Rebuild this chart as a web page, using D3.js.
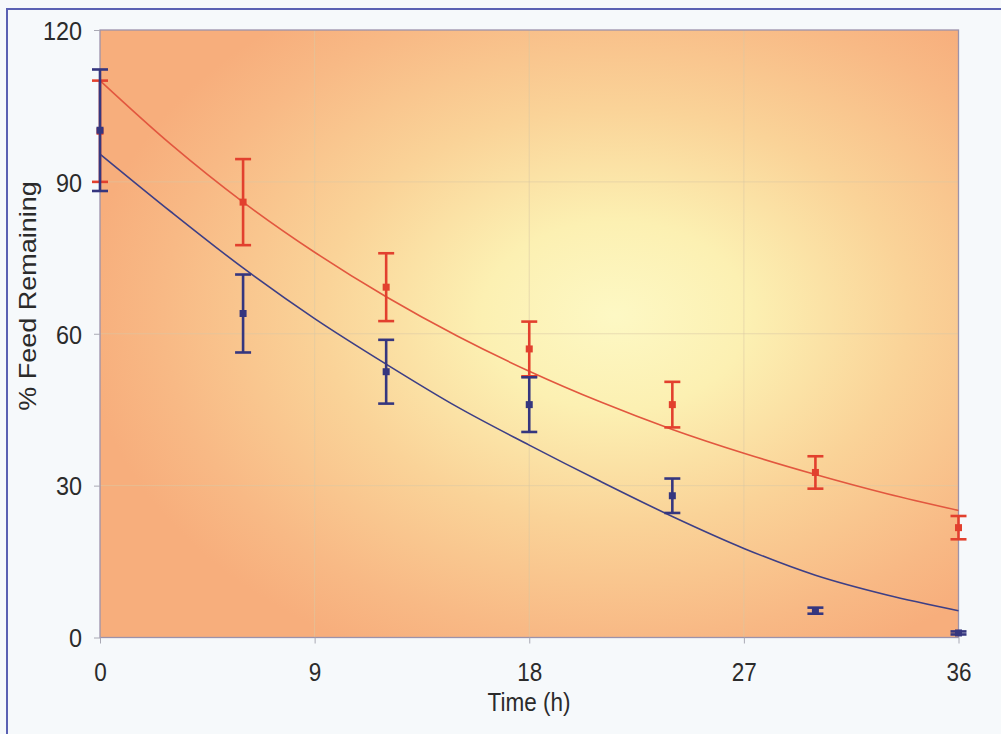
<!DOCTYPE html>
<html>
<head>
<meta charset="utf-8">
<script src="https://cdn.jsdelivr.net/npm/d3@7"></script>
<style>
  html, body { margin: 0; padding: 0; background: #f6f9fb; }
  svg { display: block; }
  text { font-family: "Liberation Sans", Arial, sans-serif; fill: #2b2b2b; }
</style>
</head>
<body>
<svg id="chart" width="1001" height="734"></svg>
<script>
// Sampling times (h)
const times = [0, 6, 12, 18, 24, 30, 36];

// Treatment A (red): mean % feed remaining and error (±)
const redMean = [100, 86, 69.2, 57, 46, 32.6, 21.7];
const redErr  = [10, 8.5, 6.7, 5.4, 4.5, 3.2, 2.3];

// Treatment B (blue): mean % feed remaining and error (±)
const blueMean = [100.2, 64, 52.5, 46, 28, 5.3, 0.9];
const blueErr  = [12, 7.7, 6.3, 5.4, 3.4, 0.6, 0.3];

// Fitted trend curves, sampled every 3 h
const fitTimes = [0, 3, 6, 9, 12, 15, 18, 21, 24, 27, 30, 33, 36];
const redFit   = [110, 97.3, 86, 76.1, 67.3, 59.5, 52.6, 46.5, 41.1, 36.4, 32.2, 28.4, 25.1];
const blueFit  = [95.5, 84, 73, 63, 54, 45.5, 38, 30.8, 23.9, 17.6, 12.3, 8.4, 5.3];

// Axis ticks
const xTicks = [0, 9, 18, 27, 36];
const yTicks = [0, 30, 60, 90, 120];

const svg = d3.select("#chart");
const plotL = 100, plotT = 30, plotR = 958.5, plotB = 637.5;
const W = plotR - plotL, H = plotB - plotT;

const x = d3.scaleLinear().domain([0, 36]).range([plotL, plotR]);
const y = d3.scaleLinear().domain([0, 120]).range([plotB, plotT]);

// Page frame
svg.append("line").attr("x1", 7).attr("x2", 7).attr("y1", 8).attr("y2", 734)
  .attr("stroke", "#5a61b3").attr("stroke-width", 2);
svg.append("line").attr("x1", 6).attr("x2", 1001).attr("y1", 9).attr("y2", 9)
  .attr("stroke", "#5a61b3").attr("stroke-width", 2);

// Plot area background: warm gradient, bright in the middle
const defs = svg.append("defs");
const grad = defs.append("radialGradient").attr("id", "plotBg")
  .attr("cx", 0.6).attr("cy", 0.47).attr("r", 0.62)
  .attr("fx", 0.6).attr("fy", 0.47);
[[0, "#fdf8c4"], [0.25, "#fcf0b2"], [0.55, "#fad398"], [0.85, "#f8b985"], [1, "#f7ae7c"]]
  .forEach(([o, c]) => grad.append("stop").attr("offset", o).attr("stop-color", c));

svg.append("rect").attr("x", plotL).attr("y", plotT).attr("width", W).attr("height", H)
  .attr("fill", "url(#plotBg)");

// Gridlines
const grid = svg.append("g").attr("stroke", "#d9c8a6").attr("stroke-opacity", 0.55).attr("stroke-width", 1);
grid.selectAll("line.h").data(yTicks.filter(v => v > 0 && v < 120)).join("line")
  .attr("x1", plotL).attr("x2", plotR).attr("y1", d => y(d)).attr("y2", d => y(d));
grid.selectAll("line.v").data(xTicks.filter(v => v > 0 && v < 36)).join("line")
  .attr("y1", plotT).attr("y2", plotB).attr("x1", d => x(d)).attr("x2", d => x(d));

// Plot border
svg.append("rect").attr("x", plotL).attr("y", plotT).attr("width", W).attr("height", H)
  .attr("fill", "none").attr("stroke", "#9c92ab").attr("stroke-width", 1.3);

// Axes
const sx = 0.9; // narrow type
const yAxis = svg.append("g").attr("transform", `translate(${plotL},0)`)
  .call(d3.axisLeft(y).tickValues(yTicks).tickSize(6).tickSizeOuter(0).tickFormat(d3.format("d")));
yAxis.select(".domain").remove();
yAxis.selectAll(".tick line").attr("stroke", "#a9a9b4");
yAxis.selectAll(".tick text")
  .attr("x", -18 / sx).attr("dy", "0.36em")
  .attr("transform", `scale(${sx},1)`)
  .style("font-size", "26px").attr("fill", "#2b2b2b");

const xAxis = svg.append("g").attr("transform", `translate(0,${plotB})`)
  .call(d3.axisBottom(x).tickValues(xTicks).tickSize(6).tickSizeOuter(0).tickFormat(d3.format("d")));
xAxis.select(".domain").remove();
xAxis.selectAll(".tick line").attr("stroke", "#a9a9b4");
xAxis.selectAll(".tick text")
  .attr("y", 44).attr("dy", 0).attr("x", 0)
  .attr("transform", `scale(${sx},1)`)
  .style("font-size", "25px").attr("fill", "#2b2b2b");

// Axis titles
svg.append("text")
  .attr("transform", `translate(529,711) scale(${sx},1)`)
  .attr("text-anchor", "middle").style("font-size", "25px").text("Time (h)");
svg.append("text")
  .attr("transform", `translate(36,296) scale(${sx},1) rotate(-90)`)
  .attr("text-anchor", "middle").style("font-size", "27px").text("% Feed Remaining");

// Trend curves
const line = d3.line().x(d => x(d[0])).y(d => y(d[1])).curve(d3.curveCatmullRom.alpha(0.5));
svg.append("path").datum(fitTimes.map((t, i) => [t, redFit[i]]))
  .attr("d", line).attr("fill", "none").attr("stroke", "#e2573f").attr("stroke-width", 1.6);
svg.append("path").datum(fitTimes.map((t, i) => [t, blueFit[i]]))
  .attr("d", line).attr("fill", "none").attr("stroke", "#3d3f86").attr("stroke-width", 1.6);

// Error bars with markers
function drawSeries(means, errs, color) {
  const g = svg.append("g");
  const pts = times.map((t, i) => ({ t, m: means[i], e: errs[i] }));
  const cap = 8;
  g.selectAll("line.bar").data(pts).join("line")
    .attr("x1", d => x(d.t)).attr("x2", d => x(d.t))
    .attr("y1", d => y(d.m + d.e)).attr("y2", d => y(d.m - d.e))
    .attr("stroke", color).attr("stroke-width", 2.6);
  g.selectAll("line.capTop").data(pts).join("line")
    .attr("x1", d => x(d.t) - cap).attr("x2", d => x(d.t) + cap)
    .attr("y1", d => y(d.m + d.e)).attr("y2", d => y(d.m + d.e))
    .attr("stroke", color).attr("stroke-width", 2.6);
  g.selectAll("line.capBot").data(pts).join("line")
    .attr("x1", d => x(d.t) - cap).attr("x2", d => x(d.t) + cap)
    .attr("y1", d => y(d.m - d.e)).attr("y2", d => y(d.m - d.e))
    .attr("stroke", color).attr("stroke-width", 2.6);
  g.selectAll("rect.mark").data(pts).join("rect")
    .attr("x", d => x(d.t) - 3.5).attr("y", d => y(d.m) - 3.5)
    .attr("width", 7).attr("height", 7).attr("fill", color);
}
drawSeries(redMean, redErr, "#e2402e");
drawSeries(blueMean, blueErr, "#35367f");
</script>
</body>
</html>
